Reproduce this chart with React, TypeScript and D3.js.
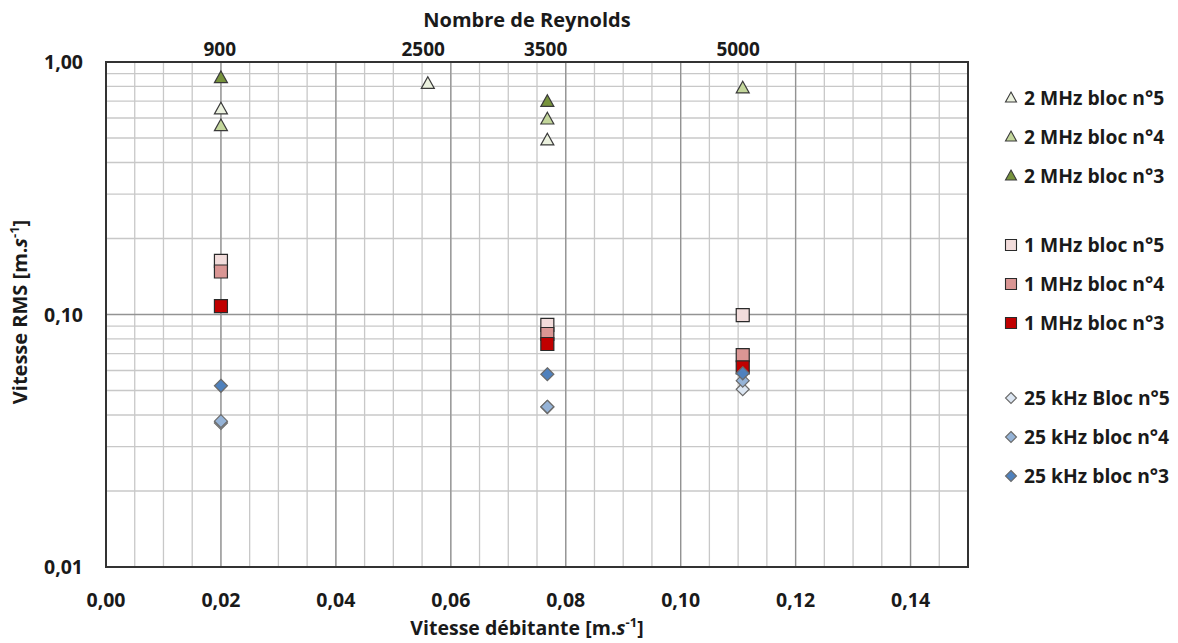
import React from "react";
import * as d3 from "d3";

// ---------- data ----------
const xTickValues = [0, 0.02, 0.04, 0.06, 0.08, 0.1, 0.12, 0.14];
const yTickValues = [0.01, 0.1, 1];
const reynoldsLabels = ["900", "2500", "3500", "5000"];
const reynoldsVelocity = [0.0198, 0.0552, 0.0765, 0.11];

const tri5X = [0.02, 0.056, 0.0768];
const tri5Y = [0.65, 0.82, 0.49];
const tri4X = [0.02, 0.0768, 0.1108];
const tri4Y = [0.558, 0.593, 0.787];
const tri3X = [0.02, 0.0768];
const tri3Y = [0.864, 0.696];

const sqX = [0.02, 0.0768, 0.1108];
const sq5Y = [0.163, 0.0909, 0.0995];
const sq4Y = [0.148, 0.0837, 0.069];
const sq3Y = [0.108, 0.0764, 0.0618];

const diaX = [0.02, 0.0768, 0.1108];
const dia5Y = [0.0372, 0.043, 0.0506];
const dia4Y = [0.0378, 0.0431, 0.0547];
const dia3Y = [0.0522, 0.058, 0.0585];

type Shape = "triangle" | "square" | "diamond";
interface Series {
  name: string;
  shape: Shape;
  fill: string;
  stroke: string;
  xs: number[];
  ys: number[];
}

const series: Series[] = [
  { name: "2 MHz bloc n°5", shape: "triangle", fill: "#EBF1DE", stroke: "#3a3a3a", xs: tri5X, ys: tri5Y },
  { name: "2 MHz bloc n°4", shape: "triangle", fill: "#C3D69B", stroke: "#3a3a3a", xs: tri4X, ys: tri4Y },
  { name: "2 MHz bloc n°3", shape: "triangle", fill: "#77933C", stroke: "#3a3a3a", xs: tri3X, ys: tri3Y },
  { name: "1 MHz bloc n°5", shape: "square", fill: "#F2DCDB", stroke: "#2a2a2a", xs: sqX, ys: sq5Y },
  { name: "1 MHz bloc n°4", shape: "square", fill: "#DA9694", stroke: "#2a2a2a", xs: sqX, ys: sq4Y },
  { name: "1 MHz bloc n°3", shape: "square", fill: "#C00000", stroke: "#2a2a2a", xs: sqX, ys: sq3Y },
  { name: "25 kHz Bloc n°5", shape: "diamond", fill: "#DCE6F2", stroke: "#6a6a6a", xs: diaX, ys: dia5Y },
  { name: "25 kHz bloc n°4", shape: "diamond", fill: "#95B3D7", stroke: "#6a6a6a", xs: diaX, ys: dia4Y },
  { name: "25 kHz bloc n°3", shape: "diamond", fill: "#4F81BD", stroke: "#6a6a6a", xs: diaX, ys: dia3Y },
];
const legendRowY = [98, 137, 176, 245, 284, 323, 398, 437, 476];

// ---------- layout ----------
const W = 1178;
const H = 643;
const plot = { left: 106, right: 968, top: 62, bottom: 567 };
const FONT = "'Open Sans', Lato, sans-serif";
const TEXT = "#1a1a1a";

function markerPath(shape: Shape, s: number): string {
  if (shape === "triangle") {
    const h = s * 0.9;
    const p = d3.path();
    p.moveTo(0, -h * 0.6);
    p.lineTo(s / 2, h * 0.4);
    p.lineTo(-s / 2, h * 0.4);
    p.closePath();
    return p.toString();
  }
  if (shape === "square") {
    const p = d3.path();
    p.rect(-s / 2, -s / 2, s, s);
    return p.toString();
  }
  const p = d3.path();
  p.moveTo(0, -s / 2);
  p.lineTo(s / 2, 0);
  p.lineTo(0, s / 2);
  p.lineTo(-s / 2, 0);
  p.closePath();
  return p.toString();
}

export default function App() {
  const x = d3.scaleLinear().domain([0, 0.15]).range([plot.left, plot.right]);
  const y = d3.scaleLog().domain([0.01, 1]).range([plot.bottom, plot.top]);

  const minorX = d3.range(0, 0.15 + 1e-9, 0.005);
  const minorY: number[] = [];
  [0.01, 0.1].forEach((d) => {
    for (let k = 2; k <= 9; k++) minorY.push(d * k);
  });

  const fmt = (v: number) => v.toFixed(2).replace(".", ",");
  const markerSize: Record<Shape, number> = { triangle: 13, square: 13, diamond: 13 };
  const legendSize: Record<Shape, number> = { triangle: 11, square: 11, diamond: 11 };

  return (
    <svg
      width={W}
      height={H}
      style={{ position: "absolute", left: 0, top: 0, background: "#fff" }}
      fontFamily={FONT}
      fontWeight={700}
    >
      <rect x={0} y={0} width={W} height={H} fill="#fff" />
      {/* minor grid */}
      {minorX.map((v, i) => (
        <line key={"mx" + i} x1={x(v)} x2={x(v)} y1={plot.top} y2={plot.bottom} stroke="#c8c8c8" strokeWidth={1.3} />
      ))}
      {minorY.map((v, i) => (
        <line key={"my" + i} x1={plot.left} x2={plot.right} y1={y(v)} y2={y(v)} stroke="#c8c8c8" strokeWidth={1.3} />
      ))}
      {/* major grid */}
      {xTickValues.map((v, i) => (
        <line key={"Mx" + i} x1={x(v)} x2={x(v)} y1={plot.top} y2={plot.bottom} stroke="#939393" strokeWidth={1.3} />
      ))}
      {yTickValues.map((v, i) => (
        <line key={"My" + i} x1={plot.left} x2={plot.right} y1={y(v)} y2={y(v)} stroke="#939393" strokeWidth={1.3} />
      ))}
      {/* frame */}
      <rect
        x={plot.left}
        y={plot.top}
        width={plot.right - plot.left}
        height={plot.bottom - plot.top}
        fill="none"
        stroke="#333"
        strokeWidth={2}
      />

      {/* bottom x tick labels */}
      {xTickValues.map((v, i) => (
        <text key={"xt" + i} x={x(v)} y={plot.bottom + 40} textAnchor="middle" fontSize={19.5} fill={TEXT}>
          {fmt(v)}
        </text>
      ))}
      {/* y tick labels */}
      {yTickValues.map((v, i) => (
        <text key={"yt" + i} x={plot.left - 23} y={y(v) + 7} textAnchor="end" fontSize={19.5} fill={TEXT}>
          {fmt(v)}
        </text>
      ))}
      {/* top Reynolds axis */}
      {reynoldsLabels.map((l, i) => (
        <text key={"re" + i} x={x(reynoldsVelocity[i])} y={56} textAnchor="middle" fontSize={19} fill={TEXT}>
          {l}
        </text>
      ))}
      <text x={527} y={27} textAnchor="middle" fontSize={20} fill={TEXT}>
        Nombre de Reynolds
      </text>

      {/* axis titles */}
      <text x={527} y={635} textAnchor="middle" fontSize={19.5} fill={TEXT}>
        Vitesse débitante [m.<tspan fontStyle="italic">s</tspan>
        <tspan fontSize={13} dy={-8}>-1</tspan>
        <tspan dy={8}>]</tspan>
      </text>
      <text transform={`translate(27,312) rotate(-90)`} textAnchor="middle" fontSize={20} fill={TEXT}>
        Vitesse RMS [m.<tspan fontStyle="italic">s</tspan>
        <tspan fontSize={13} dy={-8}>-1</tspan>
        <tspan dy={8}>]</tspan>
      </text>

      {/* data markers */}
      {series.map((s, si) => (
        <g key={"s" + si}>
          {s.xs.map((xv, j) => (
            <path
              key={j}
              d={markerPath(s.shape, markerSize[s.shape])}
              transform={`translate(${x(xv)},${y(s.ys[j])})`}
              fill={s.fill}
              stroke={s.stroke}
              strokeWidth={1.2}
            />
          ))}
        </g>
      ))}

      {/* legend */}
      {series.map((s, i) => (
        <g key={"lg" + i} transform={`translate(1011,${legendRowY[i]})`}>
          <path d={markerPath(s.shape, legendSize[s.shape])} fill={s.fill} stroke={s.stroke} strokeWidth={1.1} />
          <text x={13} y={7} fontSize={19.3} fill={TEXT}>
            {s.name}
          </text>
        </g>
      ))}
    </svg>
  );
}
